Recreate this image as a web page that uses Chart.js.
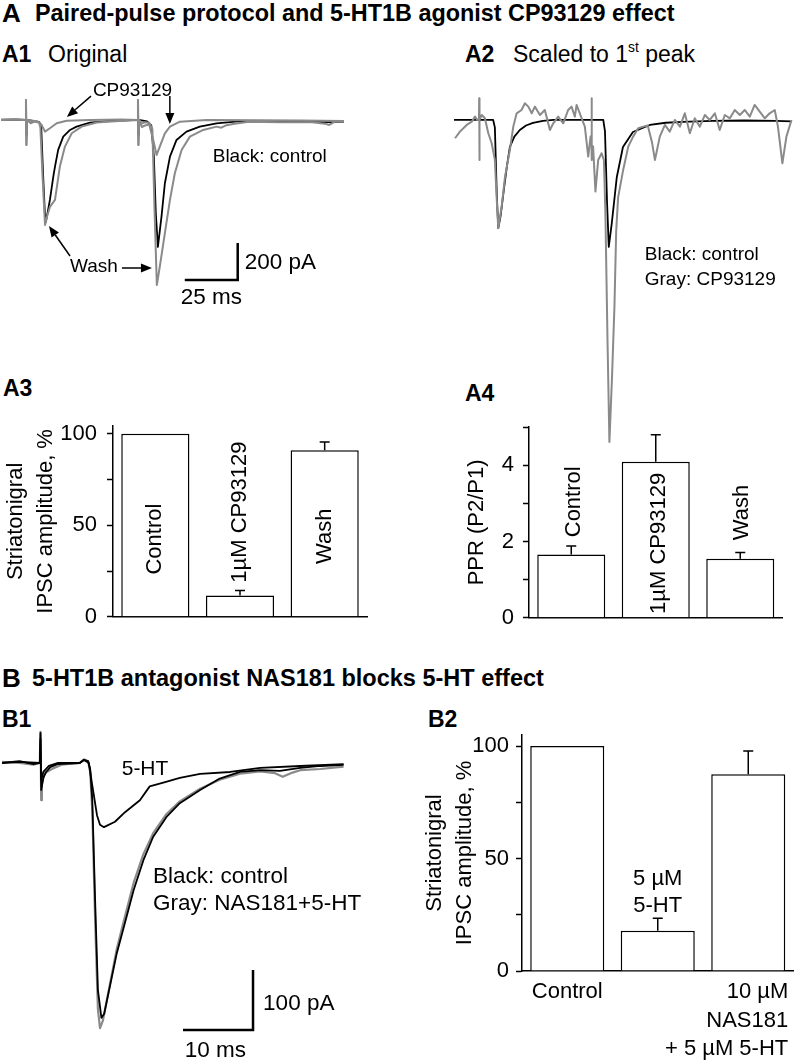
<!DOCTYPE html>
<html>
<head>
<meta charset="utf-8">
<script src="https://cdn.jsdelivr.net/npm/chart.js@4.4.1/dist/chart.umd.min.js"></script>
<style>
body { margin: 0; background: #fff; }
#fig { position: relative; width: 798px; height: 1062px; overflow: hidden; font-family: 'Liberation Sans', Arial, sans-serif; color: #000; }
#fig canvas { position: absolute; }
.t { position: absolute; line-height: 1; white-space: nowrap; }
.b { font-weight: bold; }
sup { font-size: 0.6em; vertical-align: 0.7em; line-height: 0; }
</style>
</head>
<body>
<div id="fig">
  <div class="t b" style="left:2px;top:0px;font-size:26px">A</div>
  <div class="t b" style="left:35px;top:2px;font-size:23.4px">Paired-pulse protocol and 5-HT1B agonist CP93129 effect</div>
  <div class="t b" style="left:2px;top:43px;font-size:23px">A1</div>
  <div class="t" style="left:48px;top:43px;font-size:23px">Original</div>
  <div class="t b" style="left:465px;top:43px;font-size:23px">A2</div>
  <div class="t" style="left:513px;top:43px;font-size:23px">Scaled to 1<sup>st</sup> peak</div>
  <div class="t b" style="left:3px;top:377px;font-size:23px">A3</div>
  <div class="t b" style="left:465px;top:382px;font-size:23px">A4</div>
  <div class="t b" style="left:2px;top:665px;font-size:26px">B</div>
  <div class="t b" style="left:32px;top:667px;font-size:23.5px">5-HT1B antagonist NAS181 blocks 5-HT effect</div>
  <div class="t b" style="left:2px;top:708px;font-size:23px">B1</div>
  <div class="t b" style="left:428px;top:708px;font-size:23px">B2</div>

  <canvas id="a3" width="380" height="240" style="left:0px;top:400px"></canvas>
  <canvas id="a4" width="358" height="240" style="left:440px;top:400px"></canvas>
  <canvas id="b2" width="398" height="362" style="left:400px;top:700px"></canvas>
  <canvas id="a1" width="343" height="230" style="left:1px;top:80px"></canvas>
  <canvas id="a2" width="343" height="400" style="left:454px;top:80px"></canvas>
  <canvas id="b1" width="399" height="337" style="left:2px;top:725px"></canvas>
</div>
<script>
const FONT = "'Liberation Sans', Arial, sans-serif";
Chart.defaults.font.family = FONT;
const GRAY = '#8a8a8a';

// --- traces, [ms, pA] ---
const a1Wash = [[-2,2],[5,4],[9.6,0],[9.8,108],[10.0,-135],[10.3,0],[12,-18],[14,-8],[16,-15],[16.6,-40],[17.6,-300],[18.8,-568],[19.8,-520],[21.1,-470],[23.5,-432],[25.8,-252],[28.2,-144],[31.4,-72],[36.1,-36],[43.2,-14],[50,-8],[62.5,0],[62.7,108],[62.9,-135],[63.2,0],[64.5,-20],[66,-12],[68,-15],[69.5,-50],[70.5,-480],[71.6,-892],[73.0,-793],[75.4,-612],[77.8,-432],[80.1,-288],[83.3,-162],[87.2,-90],[93.5,-54],[99.8,-36],[102,-42],[104,-30],[107.6,-22],[115,-10],[130,-12],[145,-12],[151,-20],[153,-27],[156,-8],[160,-10]];
const a1Cp = [[-2,0],[5,3],[9.6,0],[9.8,108],[10.0,-135],[10.3,0],[14,-6],[16,-12],[17.2,-27],[18.8,-63],[21.1,-45],[24.3,-18],[29.0,-4],[40,0],[55,3],[62.5,0],[62.7,108],[62.9,-135],[63.2,0],[64.5,-38],[66,-30],[68,-25],[69.9,-108],[71.5,-189],[73.0,-144],[75.4,-72],[77.8,-36],[82.5,-9],[95,0],[120,-2],[140,-3],[160,-6]];
const a1Control = [[-2,0],[5,2],[9.6,0],[9.8,60],[10.0,-80],[10.2,0],[13,-5],[16,-10],[17,-40],[17.9,-300],[18.7,-500],[19.2,-551],[21.1,-432],[22.7,-306],[23.5,-252],[25.0,-162],[27.4,-90],[30.6,-54],[33.7,-36],[40.0,-14],[47,-8],[55,-3],[62.5,0],[62.7,60],[62.9,-80],[63.1,0],[67,-8],[69,-30],[70.2,-200],[71.1,-500],[72.1,-686],[73.8,-522],[75.4,-342],[77.8,-198],[80.9,-108],[85.6,-63],[91.9,-36],[99.8,-18],[110,-8],[125,-8],[140,-10],[155,-12],[160,-10]];
const a2Control = [[-2,0],[5,0],[16.5,0],[17.3,-40],[18.2,-400],[18.9,-584],[20,-520],[21.5,-380],[23,-250],[24.4,-146],[26.5,-90],[29.1,-54],[32,-30],[35.3,-16],[40,-5],[45,0],[68.5,0],[69.3,-60],[70.3,-450],[71.1,-686],[72.5,-560],[74.9,-308],[77.8,-146],[82.5,-65],[90.5,-27],[98,-15],[106,-10],[120,-5],[135,-3],[150,-5],[157.5,-8]];
const a2Cp = [[-1.5,-99],[0.8,-63],[4,-27],[6.4,-9],[7.9,18],[9.0,0],[9.8,5],[9.9,117],[10.0,-216],[10.1,0],[11.1,27],[12.6,9],[14.2,-72],[15.8,-126],[17.3,-216],[18.2,-432],[18.9,-585],[20.5,-468],[22.1,-306],[24.4,-162],[26.0,-36],[27.6,36],[29.9,54],[31.5,90],[33.1,72],[34.7,36],[36.2,72],[38.6,27],[40.9,54],[43.3,-54],[44.9,-18],[47.2,18],[49.6,-18],[51.9,54],[53.5,72],[55.1,18],[55.9,81],[58.3,9],[59.8,-36],[61.4,-198],[62.5,-90],[62.9,-100],[63.0,117],[63.1,-216],[63.3,-140],[63.7,-144],[64.8,-387],[66.1,-216],[67.7,-180],[68.8,-216],[69.5,-500],[70.5,-1189],[71.4,-1740],[72.6,-1400],[73.8,-1000],[74.6,-600],[75.5,-420],[77.9,-270],[80.3,-144],[82.6,-90],[85.0,-45],[87.4,-36],[89.5,-30],[91.5,-120],[92.9,-216],[95.2,-90],[97.6,-27],[99.9,-63],[102.3,0],[104.7,-36],[107.0,36],[109.4,-72],[111.7,9],[114.1,-36],[116.5,27],[118.8,0],[121.2,36],[123.5,-54],[125.9,27],[128.3,9],[130.6,54],[133.0,27],[135.3,54],[137.7,18],[140.0,81],[142.4,45],[144.8,9],[147.1,36],[149.5,54],[151.0,-36],[153.1,-234],[155.0,-90],[157.4,0]];
const b1Control = [[-0.5,0],[2,3],[4,-2],[4.9,0],[5.0,50],[5.1,-45],[5.4,-25],[5.8,-15],[6.4,-7],[7.4,-2],[10.6,0],[11.2,5],[11.8,3],[12.1,-10],[12.4,-62],[12.8,-228],[13.2,-378],[13.7,-425],[14.1,-418],[14.9,-373],[15.9,-317],[16.8,-278],[18.3,-212],[19.7,-162],[21.1,-123],[23.0,-90],[24.9,-67],[27.8,-45],[30.6,-26],[33.5,-15],[36.4,-12],[39.2,-13],[42.1,-8],[45.0,-5],[48.3,-3]];
const b1Nas = [[-0.5,2],[2,0],[4,-3],[4.9,0],[5.0,52],[5.1,-62],[5.2,-34],[5.6,-17],[6.8,-9],[8,-3],[10.6,0],[11.2,6],[11.8,3],[12.1,-15],[12.4,-80],[12.8,-260],[13.2,-410],[13.5,-442],[13.9,-430],[14.9,-370],[15.9,-310],[16.8,-268],[18.3,-200],[19.7,-152],[21.1,-117],[23.0,-85],[24.9,-64],[27.8,-43],[30.6,-28],[33.5,-18],[36.4,-14],[38.5,-17],[39.6,-23],[41,-16],[42.1,-12],[45,-10],[48.3,-6]];
const b15HT = [[-0.5,0],[2,2],[4.9,0],[5.0,40],[5.1,-28],[5.4,-15],[6.2,-5],[7.5,0],[10.6,0],[11.2,5],[11.9,0],[12.5,-45],[13.07,-87],[13.5,-103],[14.07,-107],[15.64,-98],[17.07,-82],[19.2,-62],[20.6,-39],[22.8,-32],[24.9,-25],[27.8,-18],[32.1,-15],[36.4,-8],[42.1,-5],[48.3,-2]];

// scale bars: corner [ms, pA], lengths from their labels
const a1Bar = { at: [109.8, -865], ms: 25, pA: 200 };
const b1Bar = { at: [35.36, -445], ms: 10, pA: 100 };

// --- bar charts ---
const a3Labels = ['Control', '1µM CP93129', 'Wash'];
const a3Values = [100, 11.7, 91.1];
const a3Err = [0, 2.7, 4.5];
const a3Ticks = [0, 25, 50, 75, 100];
const a3Major = [0, 50, 100];

const a4Labels = ['Control', '1µM CP93129', 'Wash'];
const a4Values = [1.66, 4.09, 1.55];
const a4Err = [0.22, 0.71, 0.16];
const a4Ticks = [0, 1, 2, 3, 4, 5];
const a4Major = [0, 2, 4];

const b2Labels = [['Control'], ['5 µM', '5-HT'], ['10 µM', 'NAS181', '+ 5 µM 5-HT']];
const b2Values = [100, 17.9, 87.4];
const b2Err = [0, 5.5, 10.4];
const b2Ticks = [0, 25, 50, 75, 100];
const b2Major = [0, 50, 100];

const traceNotes = {
  id: 'traceNotes',
  afterDatasetsDraw(chart, args, o) {
    const { ctx, scales: { x, y } } = chart;
    ctx.save();
    ctx.strokeStyle = '#000'; ctx.fillStyle = '#000'; ctx.lineWidth = 1.5;
    (o.arrows || []).forEach(a => {
      const x1 = x.getPixelForValue(a[0][0]), y1 = y.getPixelForValue(a[0][1]);
      const x2 = x.getPixelForValue(a[1][0]), y2 = y.getPixelForValue(a[1][1]);
      const ang = Math.atan2(y2 - y1, x2 - x1), L = 11, W = 4.5;
      const bx = x2 - L * Math.cos(ang), by = y2 - L * Math.sin(ang);
      ctx.beginPath(); ctx.moveTo(x1, y1); ctx.lineTo(bx, by); ctx.stroke();
      ctx.beginPath(); ctx.moveTo(x2, y2);
      ctx.lineTo(bx + W * Math.sin(ang), by - W * Math.cos(ang));
      ctx.lineTo(bx - W * Math.sin(ang), by + W * Math.cos(ang));
      ctx.closePath(); ctx.fill();
    });
    (o.notes || []).forEach(n => {
      ctx.font = `${n.size || 19}px ${FONT}`;
      ctx.textAlign = 'left'; ctx.textBaseline = 'alphabetic';
      ctx.fillText(n.text, x.getPixelForValue(n.at[0]), y.getPixelForValue(n.at[1]));
    });
    ctx.restore();
  }
};

function scaleBarPts(b) {
  return [[b.at[0] - b.ms, b.at[1]], b.at, [b.at[0], b.at[1] + b.pA]];
}

function traceChart(id, cfg) {
  const sets = cfg.series.map(s => ({
    data: s.pts.map(([x, y]) => ({ x, y })), showLine: true, borderColor: s.color,
    borderWidth: s.width, pointRadius: 0, borderJoinStyle: s.join || 'round', tension: 0, fill: false
  }));
  return new Chart(document.getElementById(id), {
    type: 'scatter',
    data: { datasets: sets },
    options: {
      responsive: false, animation: false, events: [], layout: { padding: 0 },
      plugins: { legend: { display: false }, tooltip: { enabled: false }, traceNotes: cfg.notes },
      scales: {
        x: { type: 'linear', display: false, min: cfg.x[0], max: cfg.x[1] },
        y: { type: 'linear', display: false, min: cfg.y[0], max: cfg.y[1] }
      }
    },
    plugins: [traceNotes]
  });
}

const barExtras = {
  id: 'barExtras',
  afterDatasetsDraw(chart, args, o) {
    const { ctx, scales: { y }, chartArea } = chart;
    const meta = chart.getDatasetMeta(0);
    const vals = chart.data.datasets[0].data;
    ctx.save();
    ctx.strokeStyle = '#000'; ctx.lineWidth = 1.5;
    o.err.forEach((e, i) => {
      if (!e) return;
      const px = meta.data[i].x, y0 = y.getPixelForValue(vals[i]), y1 = y.getPixelForValue(vals[i] + e);
      ctx.beginPath(); ctx.moveTo(px, y0); ctx.lineTo(px, y1);
      ctx.moveTo(px - 5, y1); ctx.lineTo(px + 5, y1); ctx.stroke();
    });
    ctx.fillStyle = '#000'; ctx.font = `22px ${FONT}`;
    (o.inBar || []).forEach(l => {
      const px = meta.data[l.i].x + (l.dx || 0), py = y.getPixelForValue(l.at);
      ctx.save(); ctx.translate(px, py);
      if (l.rotate) ctx.rotate(-Math.PI / 2);
      ctx.textAlign = 'center'; ctx.textBaseline = 'middle';
      l.lines.forEach((t, k) => ctx.fillText(t, 0, (k - (l.lines.length - 1) / 2) * 27));
      ctx.restore();
    });
    (o.below || []).forEach(l => {
      const px = meta.data[l.i].x + (l.dx || 0);
      ctx.textAlign = l.align; ctx.textBaseline = 'alphabetic';
      l.lines.forEach((t, k) => ctx.fillText(t, px, chartArea.bottom + 27 + k * 28.5));
    });
    ctx.restore();
  }
};

function barChart(id, cfg) {
  return new Chart(document.getElementById(id), {
    type: 'bar',
    data: {
      labels: cfg.labels,
      datasets: [{ data: cfg.values, backgroundColor: '#fff', borderColor: '#000', borderWidth: 1.5,
        barPercentage: cfg.bar, categoryPercentage: 1 }]
    },
    options: {
      responsive: false, animation: false, events: [],
      layout: { padding: cfg.pad },
      plugins: { legend: { display: false }, tooltip: { enabled: false }, barExtras: cfg.extras },
      scales: {
        x: {
          ticks: { display: false }, grid: { display: false },
          border: { display: true, color: '#000', width: 1.5 },
          afterFit: s => { s.height = 4; }
        },
        y: {
          min: 0, max: cfg.max,
          afterBuildTicks: s => { s.ticks = cfg.ticks.map(v => ({ value: v })); },
          ticks: { autoSkip: false, color: '#000', font: { size: 22 }, padding: cfg.tickPad,
            callback: v => cfg.major.includes(v) ? String(v) : '' },
          grid: { drawOnChartArea: false, drawTicks: true, tickLength: 6, tickColor: '#000', tickWidth: 1.5 },
          border: { display: true, color: '#000', width: 1.5 },
          title: { display: true, text: cfg.title, color: '#000', font: { size: 22, lineHeight: 1.35 },
            padding: { top: cfg.titlePad, bottom: 0 } },
          afterFit: s => { s.width = cfg.yWidth; }
        }
      }
    },
    plugins: [barExtras]
  });
}

// A1
traceChart('a1', {
  x: [-2, 160], y: [-1027, 216],
  series: [
    { pts: a1Wash, color: GRAY, width: 2 },
    { pts: a1Cp, color: GRAY, width: 2 },
    { pts: a1Control, color: '#000', width: 1.8 },
    { pts: scaleBarPts(a1Bar), color: '#000', width: 2.5, join: 'miter' }
  ],
  notes: {
    notes: [
      { text: 'CP93129', at: [41.4, 130] },
      { text: 'Wash', at: [30.6, -822] },
      { text: 'Black: control', at: [98.0, -227] },
      { text: '200 pA', at: [113.1, -805], size: 22.5 },
      { text: '25 ms', at: [82.9, -994], size: 22.5 }
    ],
    arrows: [
      [[40.5, 129], [29.1, 16]],
      [[77.75, 130], [77.75, -22]],
      [[30.6, -735], [20.65, -573]],
      [[55.1, -800], [69.3, -800]]
    ]
  }
});

// A2
traceChart('a2', {
  x: [-2, 160], y: [-1946, 216],
  series: [
    { pts: a2Cp, color: GRAY, width: 2 },
    { pts: a2Control, color: '#000', width: 1.8 }
  ],
  notes: {
    notes: [
      { text: 'Black: control', at: [88.1, -757] },
      { text: 'Gray: CP93129', at: [88.1, -892] }
    ]
  }
});

// B1 (canvas wider than the traces so the labels fit)
traceChart('b1', {
  x: [-0.5, 56.5], y: [-498.4, 63.3],
  series: [
    { pts: b15HT, color: '#000', width: 1.8 },
    { pts: b1Control, color: '#000', width: 1.8 },
    { pts: b1Nas, color: GRAY, width: 2.2 },
    { pts: scaleBarPts(b1Bar), color: '#000', width: 2.5, join: 'miter' }
  ],
  notes: {
    notes: [
      { text: '5-HT', at: [16.6, -20], size: 21 },
      { text: 'Black: control', at: [21.07, -200], size: 22.5 },
      { text: 'Gray: NAS181+5-HT', at: [21.07, -245], size: 22.5 },
      { text: '100 pA', at: [36.8, -412], size: 22.5 },
      { text: '10 ms', at: [25.6, -490], size: 22.5 }
    ]
  }
});

// A3
barChart('a3', {
  labels: a3Labels, values: a3Values, bar: 0.805, max: 104.3,
  ticks: a3Ticks, major: a3Major, tickPad: 10,
  title: ['Striatonigral', 'IPSC amplitude, %'], titlePad: 1, yWidth: 113,
  pad: { left: 0, right: 13, top: 26, bottom: 14 },
  extras: {
    err: a3Err,
    inBar: [
      { i: 0, lines: [a3Labels[0]], at: 42.5, rotate: true },
      { i: 1, lines: [a3Labels[1]], at: 57.2, rotate: true },
      { i: 2, lines: [a3Labels[2]], at: 44, rotate: true }
    ]
  }
});

// A4
barChart('a4', {
  labels: a4Labels, values: a4Values, bar: 0.805, max: 5,
  ticks: a4Ticks, major: a4Major, tickPad: 9,
  title: 'PPR (P2/P1)', titlePad: 22, yWidth: 89,
  pad: { left: 0, right: 15.5, top: 27, bottom: 13 },
  extras: {
    err: a4Err,
    inBar: [
      { i: 0, lines: [a4Labels[0]], at: 3.04, rotate: true, dx: 3 },
      { i: 1, lines: [a4Labels[1]], at: 1.95, rotate: true, dx: 3 },
      { i: 2, lines: [a4Labels[2]], at: 2.76, rotate: true, dx: 2 }
    ]
  }
});

// B2
barChart('b2', {
  labels: b2Labels.map(l => l.join(' ')), values: b2Values, bar: 0.818, max: 104.9,
  ticks: b2Ticks, major: b2Major, tickPad: 7,
  title: ['Striatonigral', 'IPSC amplitude, %'], titlePad: 20, yWidth: 122,
  pad: { left: 0, right: 4.5, top: 35, bottom: 87 },
  extras: {
    err: b2Err,
    inBar: [{ i: 1, lines: b2Labels[1], at: 34.9 }],
    below: [
      { i: 0, lines: b2Labels[0], align: 'center' },
      { i: 2, lines: b2Labels[2], align: 'right', dx: 40 }
    ]
  }
});
</script>
</body>
</html>
